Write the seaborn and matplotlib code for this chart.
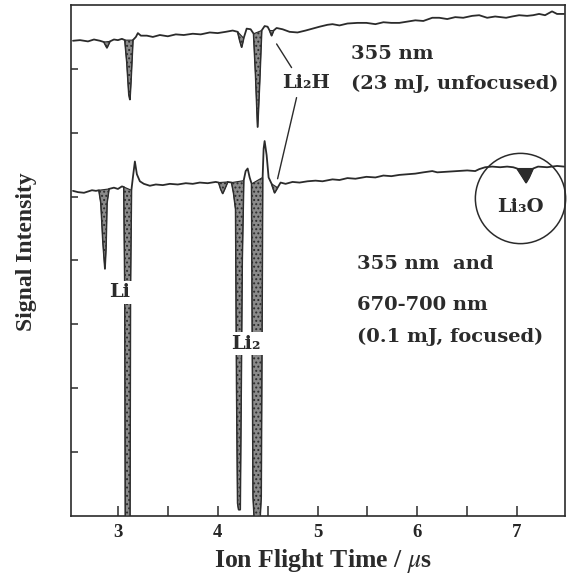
import numpy as np
import pandas as pd
import matplotlib
matplotlib.use("Agg")
import matplotlib.pyplot as plt
import seaborn as sns

# upper trace: 355 nm only (23 mJ, unfocused)
t_upper = [2.55, 2.62, 2.70, 2.76, 2.82, 2.86, 2.89, 2.92, 2.96, 3.00, 3.04, 3.07,
           3.09, 3.11, 3.12, 3.13, 3.15, 3.18, 3.20, 3.23, 3.29, 3.35, 3.42, 3.50,
           3.58, 3.66, 3.75, 3.83, 3.92, 4.00, 4.08, 4.15, 4.20, 4.22, 4.24, 4.26,
           4.29, 4.33, 4.36, 4.38, 4.40, 4.42, 4.44, 4.47, 4.50, 4.52, 4.54, 4.56,
           4.59, 4.65, 4.72, 4.80, 4.88, 4.95, 5.02, 5.10, 5.15, 5.22, 5.30, 5.40,
           5.49, 5.58, 5.66, 5.74, 5.82, 5.90, 5.98, 6.06, 6.15, 6.22, 6.30, 6.38,
           6.46, 6.55, 6.62, 6.70, 6.78, 6.89, 6.95, 7.02, 7.10, 7.16, 7.22, 7.28,
           7.35, 7.40, 7.47]
y_upper = [7.44, 7.45, 7.43, 7.46, 7.44, 7.42, 7.33, 7.43, 7.46, 7.45, 7.47, 7.45,
           7.10, 6.60, 6.52, 6.80, 7.45, 7.50, 7.56, 7.52, 7.52, 7.50, 7.53, 7.51,
           7.54, 7.53, 7.55, 7.54, 7.57, 7.56, 7.58, 7.60, 7.58, 7.45, 7.34, 7.48,
           7.63, 7.62, 7.55, 6.90, 6.09, 6.80, 7.60, 7.67, 7.66, 7.60, 7.52, 7.60,
           7.64, 7.62, 7.58, 7.57, 7.60, 7.63, 7.66, 7.69, 7.70, 7.68, 7.71, 7.72,
           7.72, 7.70, 7.73, 7.72, 7.72, 7.74, 7.76, 7.75, 7.80, 7.80, 7.78, 7.81,
           7.80, 7.83, 7.84, 7.80, 7.82, 7.80, 7.82, 7.84, 7.83, 7.84, 7.86, 7.84,
           7.90, 7.86, 7.86]
fill_upper = [(2.86, 2.92), (3.07, 3.15), (4.20, 4.26), (4.36, 4.44), (4.52, 4.56)]

# lower trace: 355 nm + 670-700 nm (0.1 mJ, focused)
t_lower = [2.55, 2.60, 2.66, 2.70, 2.74, 2.78, 2.81, 2.83, 2.85, 2.87, 2.88, 2.89,
           2.91, 2.96, 3.00, 3.04, 3.06, 3.07, 3.075, 3.12, 3.125, 3.135,
           3.15, 3.17, 3.19, 3.22, 3.26, 3.32, 3.38, 3.45, 3.52, 3.60, 3.68, 3.75,
           3.82, 3.90, 3.98, 4.01, 4.03, 4.05, 4.07, 4.10, 4.14, 4.16, 4.18, 4.19,
           4.20, 4.21, 4.225, 4.235, 4.245, 4.26, 4.28, 4.30, 4.32, 4.34, 4.345, 4.355,
           4.365, 4.425, 4.435, 4.445, 4.45, 4.46, 4.47, 4.49, 4.51, 4.54, 4.57, 4.60,
           4.63, 4.68, 4.75, 4.82, 4.90, 4.98, 5.05, 5.15, 5.22, 5.30, 5.38, 5.49,
           5.58, 5.66, 5.74, 5.82, 5.90, 5.98, 6.06, 6.15, 6.20, 6.30, 6.40, 6.50,
           6.58, 6.62, 6.68, 6.75, 6.83, 6.90, 6.96, 7.00, 7.05, 7.09, 7.12, 7.16,
           7.21, 7.30, 7.40, 7.47]
y_lower = [5.09, 5.07, 5.06, 5.08, 5.10, 5.09, 5.10, 4.90, 4.30, 3.87, 4.20, 4.90,
           5.12, 5.14, 5.12, 5.16, 5.15, 3.50, 0.00, 0.00, 3.50, 5.10,
           5.30, 5.55, 5.35, 5.24, 5.20, 5.17, 5.19, 5.18, 5.20, 5.19, 5.21, 5.20,
           5.22, 5.21, 5.23, 5.22, 5.12, 5.05, 5.12, 5.23, 5.22, 5.05, 4.80, 2.00,
           0.20, 0.10, 0.10, 2.00, 4.00, 5.25, 5.40, 5.44, 5.30, 5.20, 3.50, 0.30,
           0.00, 0.00, 0.30, 3.50, 5.30, 5.75, 5.87, 5.65, 5.30, 5.20, 5.06, 5.14,
           5.22, 5.20, 5.23, 5.22, 5.24, 5.25, 5.24, 5.27, 5.26, 5.29, 5.28, 5.31,
           5.30, 5.33, 5.32, 5.34, 5.35, 5.36, 5.38, 5.40, 5.38, 5.39, 5.40, 5.41,
           5.40, 5.43, 5.46, 5.47, 5.46, 5.47, 5.46, 5.44, 5.32, 5.22, 5.30, 5.44,
           5.47, 5.46, 5.48, 5.47]
fill_lower = [(2.81, 2.91), (3.06, 3.135), (4.01, 4.10), (4.14, 4.26),
              (4.34, 4.45), (4.54, 4.60)]
fill_li3o = (7.00, 7.16)

x_ticks = [3, 4, 5, 6, 7]

df = pd.concat([
    pd.DataFrame({"t": t_upper, "s": y_upper, "trace": "upper"}),
    pd.DataFrame({"t": t_lower, "s": y_lower, "trace": "lower"}),
])

sns.set_theme(style="white")
plt.rcParams["font.family"] = ["Liberation Serif", "DejaVu Serif"]
plt.rcParams["mathtext.fontset"] = "stix"
plt.rcParams["hatch.linewidth"] = 0.9
ink = "#2b2b2b"

fig = plt.figure(figsize=(5.69, 5.81), dpi=100)
ax = fig.add_axes([0.1248, 0.1119, 0.8682, 0.8795])

sns.lineplot(data=df, x="t", y="s", units="trace", estimator=None, sort=False,
             color=ink, lw=1.3, ax=ax)

# stippled peaks
for tr, yv, wins in [(t_upper, y_upper, fill_upper), (t_lower, y_lower, fill_lower)]:
    tr = np.array(tr)
    yv = np.array(yv)
    for a, b in wins:
        m = (tr >= a) & (tr <= b)
        ax.fill(tr[m], yv[m], facecolor="#8a8a8a", edgecolor=ink, hatch="....",
                lw=0.8, zorder=3)
tl = np.array(t_lower)
m = (tl >= fill_li3o[0]) & (tl <= fill_li3o[1])
ax.fill(tl[m], np.array(y_lower)[m], color=ink, lw=0.8, zorder=3)

ax.set_xlim(2.53, 7.48)
ax.set_ylim(0, 8)
ax.set_xticks(x_ticks)
ax.set_xticks(np.arange(3.5, 7.5, 1.0), minor=True)
ax.set_yticks(range(1, 8))
ax.set_yticklabels([])
ax.tick_params(axis="x", which="both", direction="in", length=7, width=1.1,
               color=ink, bottom=True, labelsize=13.5, pad=6)
ax.tick_params(axis="y", direction="in", length=5, width=1.1, color=ink, left=True)
for lab in ax.get_xticklabels():
    lab.set_fontweight("bold")
for sp in ax.spines.values():
    sp.set_color(ink)
    sp.set_linewidth(1.2)

ax.set_xlabel("Ion Flight Time / $\\mu$s", fontsize=18.5, fontweight="bold", color=ink)
ax.xaxis.set_label_coords(0.51, -0.060)
ax.xaxis.label.set_va("top")
ax.set_ylabel("Signal Intensity", fontsize=17, fontweight="bold", color=ink)
ax.yaxis.set_label_coords(-0.091, 0.517)
ax.yaxis.label.set_va("center")

txt = dict(family=["DejaVu Serif"], fontweight="bold", fontsize=14, color=ink)
ax.text(5.34, 7.23, "355 nm", va="center", ha="left", **txt)
ax.text(5.34, 6.77, "(23 mJ, unfocused)", va="center", ha="left", **txt)
ax.text(5.40, 3.94, "355 nm  and", va="center", ha="left", **txt)
ax.text(5.40, 3.30, "670-700 nm", va="center", ha="left", **txt)
ax.text(5.40, 2.80, "(0.1 mJ, focused)", va="center", ha="left", **txt)

box = dict(facecolor="white", edgecolor="none", pad=2)
ax.text(4.89, 6.78, "Li₂H", va="center", ha="center", zorder=5, **txt)
ax.text(3.02, 3.50, "Li", va="center", ha="center", zorder=5, bbox=box, **txt)
ax.text(4.28, 2.70, "Li₂", va="center", ha="center", zorder=5, bbox=box, **txt)
ax.text(7.03, 4.84, "Li₃O", va="center", ha="center", zorder=5, **txt)

ax.plot([4.59, 4.74], [7.39, 7.02], color=ink, lw=1.0)
ax.plot([4.79, 4.60], [6.55, 5.28], color=ink, lw=1.0)

# circle around Li3O
ax.plot([7.03], [4.98], marker="o", markersize=65, markerfacecolor="none",
        markeredgecolor=ink, markeredgewidth=1.1, clip_on=False, zorder=4)

fig.savefig("out.png", dpi=100)
